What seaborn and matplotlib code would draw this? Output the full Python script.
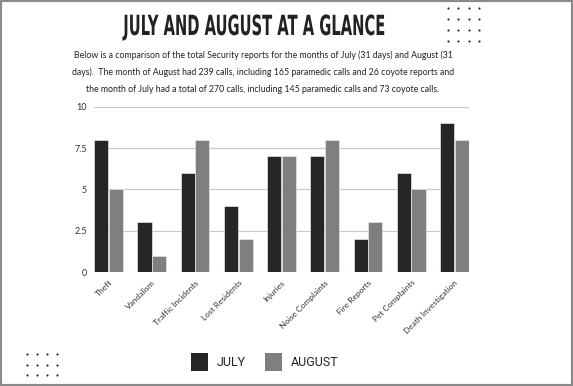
import matplotlib
matplotlib.use("Agg")
import matplotlib.pyplot as plt
import seaborn as sns
import pandas as pd
from matplotlib.patches import Rectangle
from matplotlib.lines import Line2D
from matplotlib.patheffects import AbstractPathEffect
from matplotlib.transforms import Affine2D

categories = ["Theft", "Vandalism", "Traffic Incidents", "Lost Residents", "Injuries",
              "Noise Complaints", "Fire Reports", "Pet Complaints", "Death Investigation"]
july = [8, 3, 6, 4, 7, 7, 2, 6, 9]
august = [5, 1, 8, 2, 7, 8, 3, 5, 8]
series_names = ["JULY", "AUGUST"]
yticks = [0, 2.5, 5, 7.5, 10]

df = pd.DataFrame({
    "category": categories * 2,
    "value": july + august,
    "month": [series_names[0]] * len(categories) + [series_names[1]] * len(categories),
})

sns.set_theme(style="white")
plt.rcParams['font.family'] = ['Lato', 'DejaVu Sans']

W, H = 573, 386
fig = plt.figure(figsize=(W / 100, H / 100), dpi=100)
fig.patch.set_facecolor("white")


class HSquash(AbstractPathEffect):
    """Condense glyphs horizontally around a centre x (display pixels)."""
    def __init__(self, cx, sx):
        super().__init__()
        self.cx = cx
        self.sx = sx

    def draw_path(self, renderer, gc, tpath, affine, rgbFace=None):
        aff = affine + Affine2D().translate(-self.cx, 0).scale(self.sx, 1).translate(self.cx, 0)
        renderer.draw_path(gc, tpath, aff, rgbFace)


ax = fig.add_axes([94 / W, 1 - 272 / H, (469 - 94) / W, (272 - 107) / H])
palette = {"JULY": "#262626", "AUGUST": "#7f7f7f"}
sns.barplot(data=df, x="category", y="value", hue="month", palette=palette,
            width=0.68, gap=0.04, ax=ax, legend=False, edgecolor="#e6e6e6", linewidth=0.5,
            saturation=1)
ax.set_ylim(0, 10)
ax.set_xlim(-0.34, len(categories) - 1 + 0.34)
ax.set_yticks(yticks)
ax.set_yticklabels(["%g" % t for t in yticks], fontsize=6.5, color="#333333")
ax.yaxis.grid(True, color="#c8c8c8", linewidth=0.8)
ax.set_axisbelow(True)
for s in ax.spines.values():
    s.set_visible(False)
ax.tick_params(axis="both", length=0, pad=5)
ax.set_xlabel("")
ax.set_ylabel("")
ax.set_xticks(range(len(categories)))
ax.set_xticklabels(categories, rotation=45, ha="right", rotation_mode="anchor",
                   fontsize=6, color="#333333")
ax.tick_params(axis="x", pad=5)

# Title and description
title_cx = 254
fig.text(title_cx / W, 1 - 27 / H, "JULY AND AUGUST AT A GLANCE", ha="center", va="center",
         fontsize=20, fontweight="bold", color="#222222", family=["DejaVu Sans"],
         path_effects=[HSquash(title_cx, 0.53)])
desc = ["Below is a comparison of the total Security reports for the months of July (31 days) and August (31",
        "days).  The month of August had 239 calls, including 165 paramedic calls and 26 coyote reports and",
        "the month of July had a total of 270 calls, including 145 paramedic calls and 73 coyote calls."]
for i, line in enumerate(desc):
    fig.text(263 / W, 1 - (55 + i * 17) / H, line, ha="center", va="center",
             fontsize=6.3, color="#222222")

# Legend
for (x0, name) in [(191, "JULY"), (265, "AUGUST")]:
    fig.patches.append(Rectangle((x0 / W, 1 - 371 / H), 17 / W, 18 / H,
                                 transform=fig.transFigure, facecolor=palette[name],
                                 edgecolor="none"))
    fig.text((x0 + 26) / W, 1 - 362 / H, name, ha="left", va="center",
             fontsize=9, color="#222222", family=["Roboto", "DejaVu Sans"])

# Decorative dots
xs1, ys1 = [], []
for r in range(4):
    for c in range(4):
        xs1.append((447.5 + c * 10.6) / W)
        ys1.append(1 - (7.5 + r * 11.2) / H)
for r in range(3):
    for c in range(4):
        xs1.append((27 + c * 10) / W)
        ys1.append(1 - (354 + r * 10.7) / H)
fig.add_artist(Line2D(xs1, ys1, linestyle="none", marker="o", markersize=1.5,
                      markeredgewidth=0, color="#1e1e1e", transform=fig.transFigure))

# Border
fig.patches.append(Rectangle((0, 0), 1, 1, transform=fig.transFigure, fill=False,
                             edgecolor="#8a8a8a", linewidth=3))

fig.savefig("out.png", dpi=100)
